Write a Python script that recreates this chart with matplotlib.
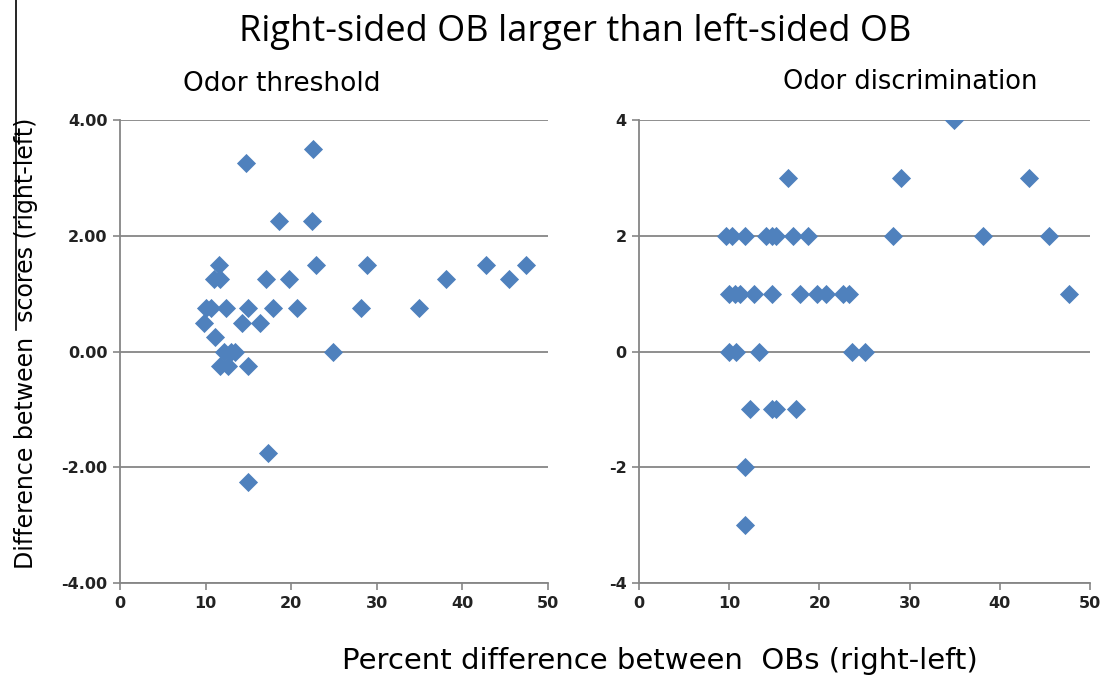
import numpy as np
import matplotlib.pyplot as plt
from matplotlib.lines import Line2D

plt.rcParams['font.family'] = ['DejaVu Sans']

# Umbral olfativo (panel izquierdo)
umbral_x = [14.7, 22.6, 18.6, 22.4,
            11.6, 22.9, 28.9, 42.8, 47.4,
            11.0, 11.7, 17.0, 19.8, 38.1, 45.4,
            10.0, 10.6, 12.4, 15.0, 17.9, 20.7, 28.1, 34.9,
            9.8, 14.2, 16.4,
            11.1,
            12.2, 13.0, 13.4, 24.9,
            11.7, 12.6, 15.0,
            17.3, 15.0]
umbral_y = [3.25, 3.5, 2.25, 2.25,
            1.5, 1.5, 1.5, 1.5, 1.5,
            1.25, 1.25, 1.25, 1.25, 1.25, 1.25,
            0.75, 0.75, 0.75, 0.75, 0.75, 0.75, 0.75, 0.75,
            0.5, 0.5, 0.5,
            0.25,
            0.0, 0.0, 0.0, 0.0,
            -0.25, -0.25, -0.25,
            -1.75, -2.25]

# Discriminacion olfativa (panel derecho)
discrim_x = [34.9,
             16.5, 29.0, 43.2,
             9.7, 10.3, 11.7, 14.1, 14.7, 15.2, 17.1, 18.7, 28.2, 38.1, 45.5,
             10.0, 10.6, 11.2, 12.7, 14.7, 17.8, 19.7, 20.7, 22.6, 23.3, 47.7,
             10.0, 10.8, 13.3, 23.6, 25.1,
             12.3, 14.7, 15.2, 17.4,
             11.7, 11.7]
discrim_y = [4,
             3, 3, 3,
             2, 2, 2, 2, 2, 2, 2, 2, 2, 2, 2,
             1, 1, 1, 1, 1, 1, 1, 1, 1, 1, 1,
             0, 0, 0, 0, 0,
             -1, -1, -1, -1,
             -2, -3]

x_ticks = [0, 10, 20, 30, 40, 50]
y_ticks = [-4, -2, 0, 2, 4]
umbral_labels = ['-4.00', '-2.00', '0.00', '2.00', '4.00']
discrim_labels = ['-4', '-2', '0', '2', '4']

color_marca = '#4F81BD'
gris = '#868686'

fig = plt.figure(figsize=(11.15, 6.76), dpi=100)
ax1 = fig.add_axes([120 / 1115, 1 - 583 / 676, 428 / 1115, 463 / 676])
ax2 = fig.add_axes([639 / 1115, 1 - 583 / 676, 451 / 1115, 463 / 676])

for ax, xs, ys, etiquetas in [(ax1, umbral_x, umbral_y, umbral_labels),
                              (ax2, discrim_x, discrim_y, discrim_labels)]:
    ax.scatter(xs, ys, marker='D', s=95, color=color_marca, linewidths=0, zorder=3)
    ax.set_xlim(0, 50)
    ax.set_ylim(-4, 4)
    ax.set_xticks(x_ticks)
    ax.set_yticks(y_ticks)
    ax.set_yticklabels(etiquetas)
    ax.grid(axis='y', color=gris, linewidth=1.3)
    ax.set_axisbelow(True)
    for lado in ['top', 'right']:
        ax.spines[lado].set_visible(False)
    for lado in ['left', 'bottom']:
        ax.spines[lado].set_color(gris)
        ax.spines[lado].set_linewidth(1.3)
    ax.tick_params(axis='both', direction='out', length=5, width=1.2, color=gris,
                   labelsize=11.5, pad=4)
    for t in ax.get_xticklabels() + ax.get_yticklabels():
        t.set_fontweight('bold')
        t.set_color('#222222')

fig.text(575 / 1115, 1 - 32 / 676, 'Right-sided OB larger than left-sided OB',
         ha='center', va='center', fontsize=26, family=['Open Sans', 'DejaVu Sans'])
fig.text(282 / 1115, 1 - 84 / 676, 'Odor threshold', ha='center', va='center', fontsize=19)
fig.text(910 / 1115, 1 - 82 / 676, 'Odor discrimination', ha='center', va='center', fontsize=18.5)
fig.text(26 / 1115, 1 - 343 / 676, 'Difference between  scores (right-left)',
         ha='center', va='center', rotation=90, fontsize=17)
fig.text(660 / 1115, 1 - 661 / 676, 'Percent difference between  OBs (right-left)',
         ha='center', va='center', fontsize=21)

# linea vertical del recorte original
fig.add_artist(Line2D([16 / 1115, 16 / 1115], [1.0, 1 - 330 / 676],
                      transform=fig.transFigure, color='black', linewidth=1.2))

fig.savefig('out.png', dpi=100, facecolor='white')
